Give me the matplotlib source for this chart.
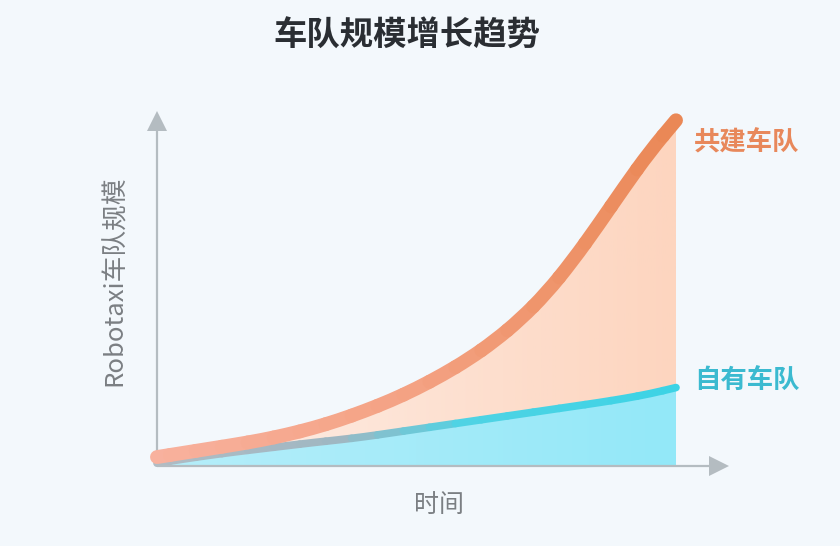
import numpy as np
import matplotlib
matplotlib.use("Agg")
from matplotlib import pyplot as plt
from matplotlib.colors import LinearSegmentedColormap
from matplotlib.patches import PathPatch
from matplotlib.path import Path

plt.rcParams['font.family'] = ['Noto Sans CJK SC', 'DejaVu Sans']

# values (arbitrary units, time 0..10)
time_pts = [0, 0.5, 1, 1.5, 2, 2.5, 3, 3.5, 4, 4.5, 5, 5.5, 6, 6.5, 7, 7.5, 8, 8.5, 9, 9.5, 10]
shared_fleet = [2.6, 3.8, 5.0, 6.2, 7.5, 9.1, 11, 13.3, 16, 19, 22.5, 26.5, 31, 36.3, 42.6,
                50.2, 59.5, 70, 81, 91.5, 100.5]
own_fleet = [0.8, 2.0, 3.1, 4.1, 5.0, 5.9, 6.8, 7.6, 8.5, 9.6, 10.7, 11.8, 12.9, 14.0, 15.1,
             16.2, 17.3, 18.4, 19.6, 21.0, 22.8]

title = '车队规模增长趋势'
x_label = '时间'
y_label = 'Robotaxi车队规模'
shared_name = '共建车队'
own_name = '自有车队'

bg = '#f3f8fc'
axis_color = '#b4bcc1'

fig = plt.figure(figsize=(8.4, 5.46), dpi=100, facecolor=bg)
ax = fig.add_axes([157/840, 1-466/546, (676-157)/840, (466-122)/546])
ax.set_facecolor('none')
ax.set_xlim(0, 10)
ax.set_ylim(0, 100)
for s in ax.spines.values():
    s.set_visible(False)
ax.set_xticks([])
ax.set_yticks([])

t = np.array(time_pts)
orange = np.array(shared_fleet)
blue = np.array(own_fleet)


def gradient_fill(y1, y2, c_left, c_right, z):
    poly = ax.fill_between(t, y1, y2, color='none', lw=0)
    path = poly.get_paths()[0]
    patch = PathPatch(path, transform=ax.transData, facecolor='none', edgecolor='none')
    ax.add_patch(patch)
    cmap = LinearSegmentedColormap.from_list('g', [c_left, c_right])
    grad = np.linspace(0, 1, 256).reshape(1, -1)
    im = ax.imshow(grad, extent=[0, 10, 0, 101], aspect='auto', cmap=cmap,
                   origin='lower', zorder=z, clip_on=True)
    im.set_clip_path(patch)


def gradient_line(y, stops, lw, z):
    # smooth line: quadratic bezier pieces between midpoints, each piece its own colour
    cmap = LinearSegmentedColormap.from_list('l', stops)
    p = np.column_stack([t, y])
    m = (p[:-1] + p[1:]) / 2
    n = len(p)
    for i in range(n):
        if i == 0:
            verts, codes = [p[0], m[0]], [Path.MOVETO, Path.LINETO]
        elif i == n - 1:
            verts, codes = [m[-1], p[-1]], [Path.MOVETO, Path.LINETO]
        else:
            verts = [m[i-1], p[i], m[i]]
            codes = [Path.MOVETO, Path.CURVE3, Path.CURVE3]
        pp = PathPatch(Path(verts, codes), transform=ax.transData, fill=False,
                       edgecolor=cmap(t[i] / 10), lw=lw, capstyle='round',
                       joinstyle='round', zorder=z, clip_on=False)
        ax.add_patch(pp)


gradient_fill(blue, orange, '#fdf0e9', '#fdd5bf', 1)
gradient_fill(0, blue, '#b6eefa', '#93e8f8', 1)

gradient_line(blue, [(0, '#b0bcc4'), (0.35, '#9fb7c2'), (0.6, '#4fd3e4'), (1, '#3dd3e5')], 5.5, 3)
gradient_line(orange, [(0, '#f8b19e'), (0.5, '#f4a283'), (1, '#ea8856')], 10, 4)

# axes with arrows
ax.plot([0, 0], [0, 0.99], transform=ax.transAxes, color=axis_color, lw=1.6,
        clip_on=False, zorder=2, solid_capstyle='butt')
ax.plot([0], [1.003], transform=ax.transAxes, marker='^', ms=14, color=axis_color,
        clip_on=False, zorder=2, mew=0)
ax.plot([0, 1.07], [0, 0], transform=ax.transAxes, color=axis_color, lw=1.6,
        clip_on=False, zorder=5, solid_capstyle='butt')
ax.plot([1.083], [0], transform=ax.transAxes, marker='>', ms=14, color=axis_color,
        clip_on=False, zorder=5, mew=0)

fig.text(407/840, 1-36/546, title, ha='center', va='center', fontsize=24,
         fontweight='bold', color='#2a2e33')
fig.text(115/840, 1-281/546, y_label, ha='center', va='center', rotation=90,
         fontsize=18.5, color='#7b7f83')
fig.text(439/840, 1-505/546, x_label, ha='center', va='center', fontsize=18,
         color='#7b7f83')
fig.text(694/840, 1-143/546, shared_name, ha='left', va='center', fontsize=19,
         fontweight='bold', color='#e8885b')
fig.text(694/840, 1-381/546, own_name, ha='left', va='center', fontsize=19,
         fontweight='bold', color='#3bbad0')

fig.savefig('out.png', dpi=100, facecolor=bg)
